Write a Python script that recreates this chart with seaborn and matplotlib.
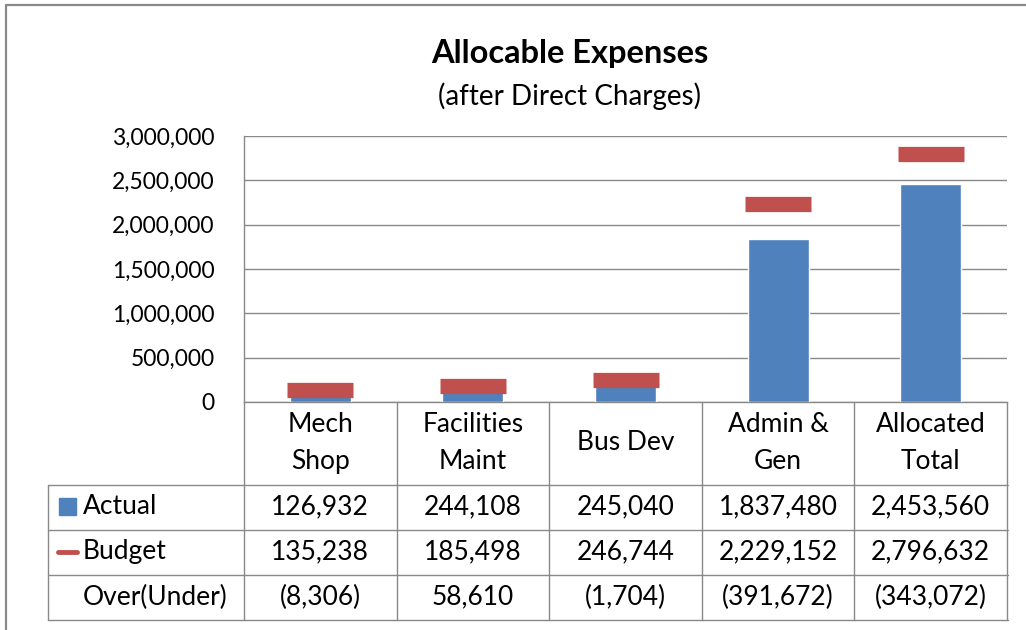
import numpy as np
import pandas as pd
import seaborn as sns
import matplotlib.pyplot as plt
from matplotlib.lines import Line2D
from matplotlib.patches import Rectangle
from matplotlib.ticker import FuncFormatter
from matplotlib import transforms

# data
categories = ['Mech\nShop', 'Facilities\nMaint', 'Bus Dev', 'Admin &\nGen', 'Allocated\nTotal']
actual = [126932, 244108, 245040, 1837480, 2453560]
budget = [135238, 185498, 246744, 2229152, 2796632]
over_under = ['(8,306)', '58,610', '(1,704)', '(391,672)', '(343,072)']
yticks = [0, 500000, 1000000, 1500000, 2000000, 2500000, 3000000]

# colors
blue = '#4F81BD'
red = '#C0504D'
grey = '#898989'

sns.set_theme(style='white')
plt.rcParams['font.family'] = ['Lato', 'DejaVu Sans']
plt.rcParams['text.color'] = 'black'

W, H = 1026, 630
fig = plt.figure(figsize=(W / 100, H / 100), dpi=100)

def fx(px):
    return px / W

def fy(py):
    return 1 - py / H

ax = fig.add_axes([fx(244), fy(402), fx(1007) - fx(244), fy(136) - fy(402)])

df = pd.DataFrame({'cat': categories, 'actual': actual, 'budget': budget})
sns.barplot(data=df, x='cat', y='actual', color=blue, saturation=1, width=0.4, ax=ax, zorder=3)
sns.pointplot(data=df, x='cat', y='budget', color=red, markers='_', linestyles='none',
              markersize=47, markeredgewidth=11, errorbar=None, ax=ax, zorder=4)

ax.set_xlim(-0.5, len(categories) - 0.5)
ax.set_ylim(0, 3000000)
ax.set_yticks(yticks)
ax.yaxis.set_major_formatter(FuncFormatter(lambda v, p: f'{v:,.0f}'))
ax.tick_params(axis='y', length=0, pad=21, labelsize=16.5, colors='black')
ax.set_xticks([])
ax.set_xlabel('')
ax.set_ylabel('')
ax.grid(axis='y', color=grey, linewidth=1.0)
ax.set_axisbelow(True)
for side in ['top', 'right']:
    ax.spines[side].set_visible(False)
for side in ['left', 'bottom']:
    ax.spines[side].set_color(grey)
    ax.spines[side].set_linewidth(1.0)

# titles
fig.text(fx(570), fy(53), 'Allocable Expenses', ha='center', va='center', fontsize=23.5, fontweight='bold')
fig.text(fx(569), fy(96), '(after Direct Charges)', ha='center', va='center', fontsize=20)

# outer chart border
fig.add_artist(Line2D([fx(6), fx(1026)], [fy(5), fy(5)], color=grey, lw=1.6))
fig.add_artist(Line2D([fx(6), fx(6)], [fy(5), fy(630)], color=grey, lw=1.6))

# data table
tr = transforms.blended_transform_factory(ax.transData, fig.transFigure)
row_lines = [485, 530, 575, 620]
for yy in row_lines:
    fig.add_artist(Line2D([fx(48), fx(1008)], [fy(yy), fy(yy)], color=grey, lw=1.0))
fig.add_artist(Line2D([fx(48), fx(48)], [fy(485), fy(620)], color=grey, lw=1.0))
edges = np.arange(len(categories) + 1) - 0.5
for e in edges:
    fig.add_artist(Line2D([e, e], [fy(402), fy(620)], color=grey, lw=1.0, transform=tr))

tsize = 19
for i, c in enumerate(categories):
    fig.text(i, fy(443), c, transform=tr, ha='center', va='center', fontsize=tsize, linespacing=1.6)
    fig.text(i, fy(507), f'{actual[i]:,}', transform=tr, ha='center', va='center', fontsize=tsize)
    fig.text(i, fy(552), f'{budget[i]:,}', transform=tr, ha='center', va='center', fontsize=tsize)
    fig.text(i, fy(597), over_under[i], transform=tr, ha='center', va='center', fontsize=tsize)

# row labels with legend keys
fig.add_artist(Rectangle((fx(59), fy(515)), fx(17), fy(498) - fy(515), color=blue))
fig.add_artist(Line2D([fx(58), fx(77)], [fy(552), fy(552)], color=red, lw=3.5))
fig.text(fx(83), fy(507), 'Actual', ha='left', va='center', fontsize=tsize)
fig.text(fx(83), fy(552), 'Budget', ha='left', va='center', fontsize=tsize)
fig.text(fx(83), fy(597), 'Over(Under)', ha='left', va='center', fontsize=tsize)

fig.savefig('out.png', dpi=100)
